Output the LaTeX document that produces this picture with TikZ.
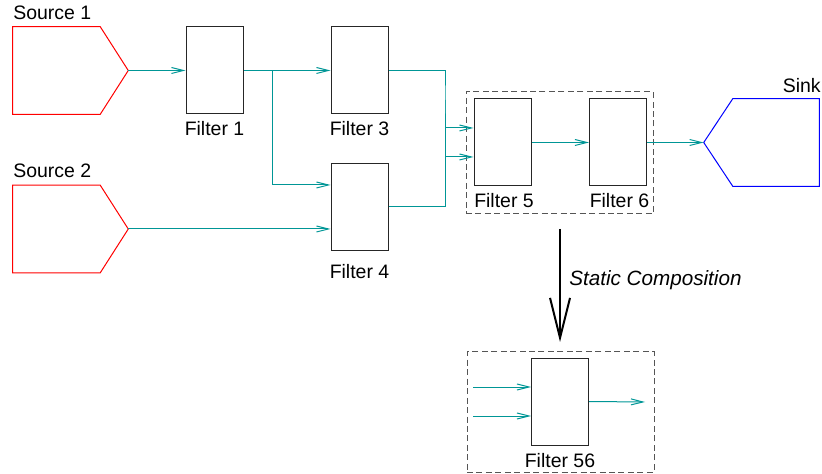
\documentclass[tikz,border=0pt]{standalone}
\usepackage{fontspec}
\setmainfont{Liberation Sans}
\usetikzlibrary{arrows.meta}
\definecolor{flowc}{RGB}{0,150,150}
\definecolor{frame}{RGB}{85,85,85}
\begin{document}
\begin{tikzpicture}[x=0.75pt,y=-0.75pt,
  filter/.style={draw=black!85, line width=0.75pt, minimum width=42.75pt,
    minimum height=65.25pt, inner sep=0},
  port/.style={minimum width=86.25pt, minimum height=65.25pt, inner sep=0},
  flow/.style={draw=flowc, line width=0.75pt,
    -{Straight Barb[length=9pt,width=4.5pt]}},
  group/.style={draw=frame, line width=0.75pt, dash pattern=on 4.5pt off 2.6pt,
    inner sep=0},
  lbl/.style={font=\fontsize{14.6}{17}\selectfont, inner sep=0},
  compose/.style={draw=black, line width=2.2pt,
    -{Straight Barb[length=30pt,width=15pt,line width=1.5pt]}}
]
\useasboundingbox (0,0) rectangle (822,474);

% sources and sink
\node[port] (src1) at (70.5,70.5) {};
\node[port] (src2) at (70.5,229) {};
\node[port] (sink) at (761.5,142.5) {};
\draw[red, line width=0.75pt] (src1.north west) -- ([xshift=-21pt]src1.north east)
  -- (src1.east) -- ([xshift=-21pt]src1.south east) -- (src1.south west) -- cycle;
\draw[red, line width=0.75pt] (src2.north west) -- ([xshift=-21pt]src2.north east)
  -- (src2.east) -- ([xshift=-21pt]src2.south east) -- (src2.south west) -- cycle;
\draw[blue, line width=0.75pt] (sink.north east) -- ([xshift=21.75pt]sink.north west)
  -- (sink.west) -- ([xshift=21.75pt]sink.south west) -- (sink.south east) -- cycle;

% filters
\node[filter] (f1) at (214.5,70.5) {};
\node[filter] (f3) at (359.5,70.5) {};
\node[filter] (f4) at (359.5,207) {};
\node[filter] (f5) at (502.5,142.5) {};
\node[filter] (f6) at (618,142.5) {};
\node[filter] (f56) at (560,401.5) {};

% composition frames
\node[group, minimum width=140.25pt, minimum height=91.5pt] (g1) at (559.5,153) {};
\node[group, minimum width=140.25pt, minimum height=90pt] (g2) at (560.5,412) {};

% labels
\node[lbl, anchor=base west] (l-src1) at (13,20) {Source 1};
\node[lbl, anchor=base west] (l-src2) at (13,178) {Source 2};
\node[lbl, anchor=base east] (l-sink) at (821,93) {Sink};
\node[lbl, anchor=base] (l-f1) at (214.5,136) {Filter 1};
\node[lbl, anchor=base] (l-f3) at (359.5,136) {Filter 3};
\node[lbl, anchor=base] (l-f4) at (359.5,279) {Filter 4};
\node[lbl, anchor=base] (l-f5) at (504,208) {Filter 5};
\node[lbl, anchor=base] (l-f6) at (619.5,208) {Filter 6};
\node[lbl, anchor=base] (l-f56) at (560,467) {Filter 56};
\node[lbl, anchor=base west, font=\fontsize{15.5}{18}\selectfont\itshape] (l-comp)
  at (569,286) {Static Composition};

% stream connections
\coordinate (split) at (272,70.5);
\coordinate (bus) at (445,100);
\draw[flow] (src1.east) -- (f1.west);
\draw[flow] (f1.east) -- (f3.west);
\draw[flow] (split) |- ([yshift=16.5pt]f4.west);
\draw[flow] (src2.east) -- ([yshift=-16.5pt]f4.west);
\draw[flow] (f3.east) -| (bus) |- ([yshift=10.875pt]f5.west);
\draw[flow] (f4.east) -| (bus) |- ([yshift=-10.875pt]f5.west);
\draw[flow] (f5.east) -- (f6.west);
\draw[flow] (f6.east) -- (sink.west);

% composed filter ports
\coordinate (in1) at (473,387);
\coordinate (in2) at (473,416);
\coordinate (out) at (645,402);
\draw[flow] (in1) -- ([yshift=10.875pt]f56.west);
\draw[flow] (in2) -- ([yshift=-10.875pt]f56.west);
\draw[flow] (f56.east) -- (out);

% composition step
\coordinate (ctop) at (560,229);
\coordinate (cbot) at (560,342);
\draw[compose] (ctop) -- (cbot);
\end{tikzpicture}
\end{document}
